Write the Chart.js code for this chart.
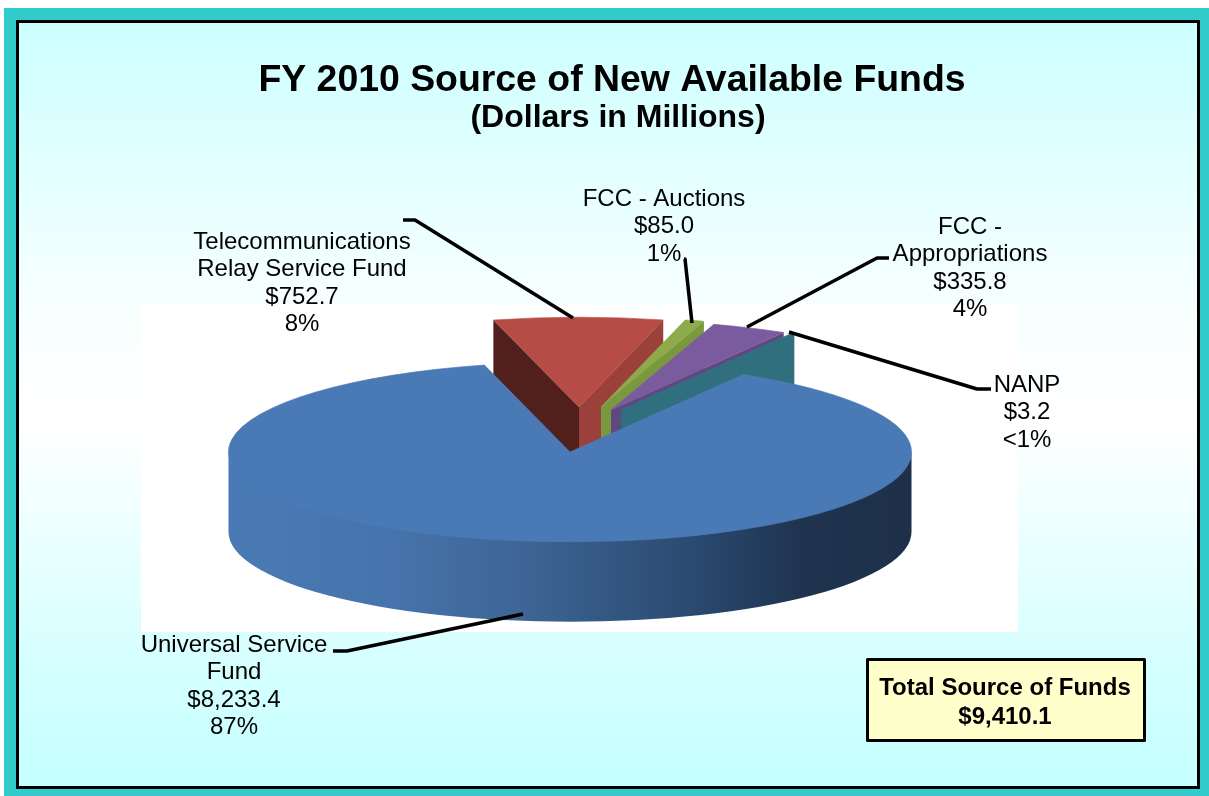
<!DOCTYPE html>
<html><head><meta charset="utf-8">
<style>html,body{margin:0;padding:0;background:#fff}#w{position:absolute;left:0;top:0;width:1209px;height:796px}</style>
<script src="https://cdn.jsdelivr.net/npm/chart.js@4"></script></head>
<body><div id="w"><canvas id="c" width="1209" height="796"></canvas></div>
<script>
const categories=['Universal Service Fund','Telecommunications Relay Service Fund','FCC - Auctions','FCC - Appropriations','NANP'];
const amounts=[8233.4,752.7,85.0,335.8,3.2];
const percents=['87%','8%','1%','4%','<1%'];
const amountLabels=['$8,233.4','$752.7','$85.0','$335.8','$3.2'];
const sliceColors=['#4a7ab5','#b54c46','#8dab4b','#7a5c9e','#2f7486'];
const wallColors=[null,'#9b403b','#7a983e','#5f4781','#2f6f7e'];
const totalLines=['Total Source of Funds','$9,410.1'];
const titleText='FY 2010 Source of New Available Funds';
const subtitleText='(Dollars in Millions)';

const K=0.263, DEPTH=80;
const shiftX=[0,9,31,41,51], shiftY=[0,-45,-45,-42,-42];
const labelBlocks=[
 {i:0,lines:['Universal Service','Fund'],x:234,y:644},
 {i:1,lines:['Telecommunications','Relay Service Fund'],x:302,y:241},
 {i:2,lines:['FCC - Auctions'],x:664,y:198},
 {i:3,lines:['FCC -','Appropriations'],x:970,y:226},
 {i:4,lines:['NANP'],x:1027,y:384}
];
const leaders=[
 [[333,651],[347,651],[523,614]],
 [[403,220],[415,220],[573,318]],
 [[684,259],[685,259],[692,323]],
 [[889,258],[877,258],[747,327]],
 [[991,389],[977,389],[789,332]]
];

const pie3d={id:'pie3d',
 beforeDraw(ch){const c=ch.ctx,W=ch.width,H=ch.height;
  c.save();
  c.fillStyle='#fff';c.fillRect(0,0,W,H);
  c.fillStyle='#33cccc';c.fillRect(4,8,W-4,H-8);
  const g=c.createLinearGradient(0,20,0,788);
  g.addColorStop(0,'#ccffff');g.addColorStop(.36,'#f6ffff');g.addColorStop(.52,'#ffffff');g.addColorStop(.82,'#d8ffff');g.addColorStop(1,'#c4ffff');
  c.fillStyle=g;c.fillRect(17,21,1182,767);
  c.strokeStyle='#000';c.lineWidth=3;c.strokeRect(17.5,21.5,1181,766);
  c.fillStyle='#fff';c.fillRect(141,305,877,327);
  c.restore();
 },
 beforeDatasetsDraw(ch){
  const c=ch.ctx,arcs=ch.getDatasetMeta(0).data;
  const face=(i)=>{const a=arcs[i];c.save();
    c.translate(shiftX[i],shiftY[i]);
    c.translate(0,a.y);c.scale(1,K);c.translate(0,-a.y);
    a.draw(c);c.restore();};
  const wall=(i,ang,col)=>{const a=arcs[i],x0=a.x+shiftX[i],y0=a.y+shiftY[i],
    x1=x0+a.outerRadius*Math.cos(ang),y1=y0+a.outerRadius*K*Math.sin(ang);
    c.fillStyle=col;c.beginPath();c.moveTo(x0,y0);c.lineTo(x1,y1);c.lineTo(x1,y1+DEPTH);c.lineTo(x0,y0+DEPTH);c.closePath();c.fill();};
  wall(1,arcs[1].startAngle,'#51201c');
  wall(1,arcs[1].endAngle,wallColors[1]);face(1);
  wall(2,arcs[2].endAngle,wallColors[2]);face(2);
  wall(3,arcs[3].endAngle,wallColors[3]);face(3);
  wall(4,arcs[4].endAngle,wallColors[4]);face(4);
  const a=arcs[0],r=a.outerRadius;
  const g=c.createLinearGradient(a.x-r,0,a.x+r,0);
  g.addColorStop(0,'#4a7ab5');g.addColorStop(.25,'#4673ab');g.addColorStop(.44,'#3d6494');g.addColorStop(.68,'#2a4a70');g.addColorStop(.84,'#1f3350');g.addColorStop(1,'#1e3048');
  c.fillStyle=g;c.beginPath();
  c.ellipse(a.x,a.y-1,r,r*K,0,0,Math.PI);
  c.ellipse(a.x,a.y+DEPTH,r,r*K,0,Math.PI,0,true);
  c.closePath();c.fill();
  face(0);
  return false;
 },
 afterDraw(ch){const c=ch.ctx;c.save();
  c.fillStyle='#000';c.textAlign='center';c.textBaseline='middle';
  c.font='bold 37.4px "Liberation Sans"';c.fillText(titleText,612,81);
  c.font='bold 32px "Liberation Sans"';c.fillText(subtitleText,618,118);
  c.font='24px "Liberation Sans"';
  labelBlocks.forEach(b=>{
    const ls=[...b.lines,amountLabels[b.i],percents[b.i]];
    ls.forEach((t,k)=>c.fillText(t,b.x,b.y+1+k*27.5));
  });
  c.strokeStyle='#000';c.lineWidth=3.5;c.lineJoin='round';
  leaders.forEach(p=>{c.beginPath();p.forEach((q,k)=>k?c.lineTo(q[0],q[1]):c.moveTo(q[0],q[1]));c.stroke();});
  c.fillStyle='#ffffcc';c.fillRect(866,658,280,84);c.lineWidth=3;c.strokeRect(867.5,659.5,277,81);
  c.fillStyle='#000';c.font='bold 24px "Liberation Sans"';
  totalLines.forEach((t,k)=>c.fillText(t,1005,688+k*29));
  c.restore();
 }
};
new Chart(document.getElementById('c'),{
 type:'pie',
 data:{labels:categories,datasets:[{data:amounts,backgroundColor:sliceColors,borderColor:sliceColors,borderWidth:1}]},
 options:{responsive:false,animation:false,devicePixelRatio:1,rotation:30.5,
  layout:{padding:{left:228,right:297,top:110,bottom:2}},
  events:[],
  plugins:{legend:{display:false},title:{display:false},tooltip:{enabled:false}}},
 plugins:[pie3d]
});
</script></body></html>
